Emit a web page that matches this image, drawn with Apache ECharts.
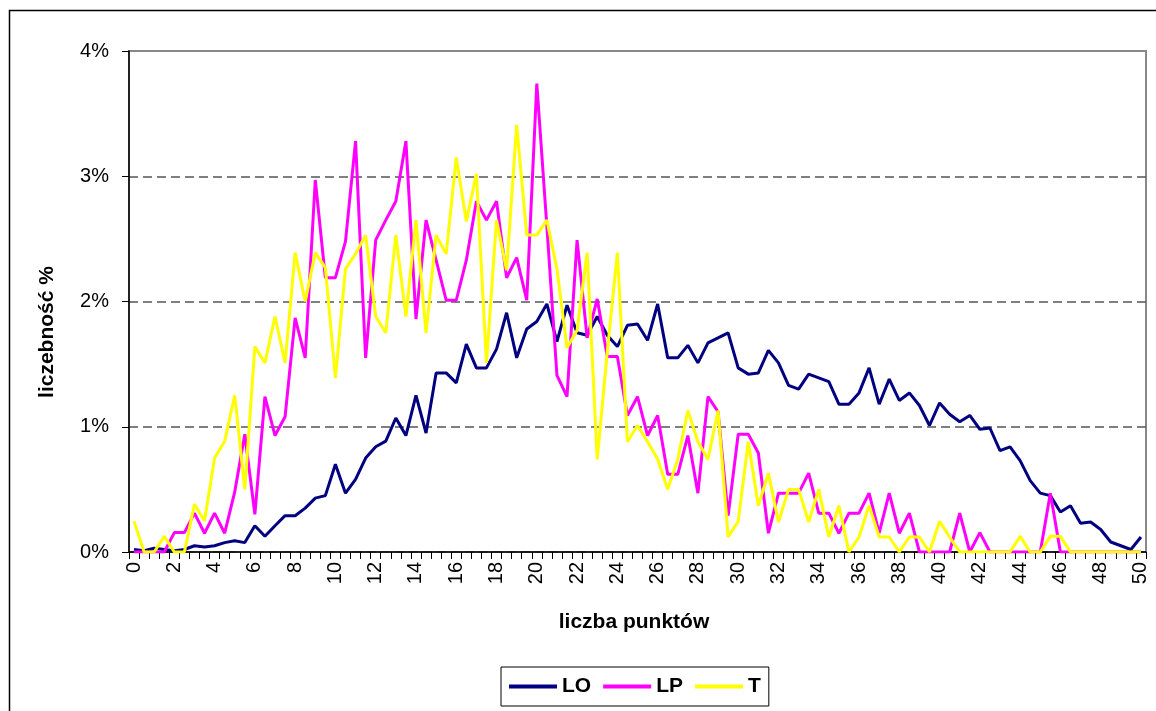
<!DOCTYPE html>
<html>
<head>
<meta charset="utf-8">
<script src="https://cdn.jsdelivr.net/npm/echarts@6/dist/echarts.min.js"></script>
<style>
  html, body { margin: 0; padding: 0; background: #fff; }
  #chart { width: 1156px; height: 711px; }
</style>
</head>
<body>
<div id="chart"></div>
<script>
// liczba punktów (krok 0.5)
const points = [
  '0','0.5','1','1.5','2','2.5','3','3.5','4','4.5','5','5.5','6','6.5','7','7.5','8','8.5','9','9.5',
  '10','10.5','11','11.5','12','12.5','13','13.5','14','14.5','15','15.5','16','16.5','17','17.5','18','18.5','19','19.5',
  '20','20.5','21','21.5','22','22.5','23','23.5','24','24.5','25','25.5','26','26.5','27','27.5','28','28.5','29','29.5',
  '30','30.5','31','31.5','32','32.5','33','33.5','34','34.5','35','35.5','36','36.5','37','37.5','38','38.5','39','39.5',
  '40','40.5','41','41.5','42','42.5','43','43.5','44','44.5','45','45.5','46','46.5','47','47.5','48','48.5','49','49.5',
  '50'
];

// liczebność % dla każdej grupy
const LO = [
  0.02, 0.01, 0.03, 0.02, 0.01, 0.02, 0.05, 0.04, 0.05, 0.075, 0.09, 0.075, 0.21, 0.125, 0.21, 0.29, 0.29, 0.35, 0.43, 0.45,
  0.70, 0.47, 0.58, 0.75, 0.84, 0.885, 1.07, 0.93, 1.25, 0.95, 1.43, 1.43, 1.35, 1.66, 1.47, 1.47, 1.62, 1.91, 1.55, 1.78,
  1.84, 1.98, 1.68, 1.97, 1.75, 1.73, 1.88, 1.73, 1.64, 1.81, 1.82, 1.69, 1.98, 1.55, 1.55, 1.65, 1.51, 1.67, 1.71, 1.75,
  1.47, 1.42, 1.43, 1.61, 1.51, 1.33, 1.30, 1.42, 1.39, 1.36, 1.18, 1.18, 1.27, 1.47, 1.18, 1.38, 1.21, 1.27, 1.17, 1.01,
  1.19, 1.10, 1.04, 1.09, 0.98, 0.99, 0.81, 0.84, 0.73, 0.57, 0.47, 0.45, 0.32, 0.37, 0.23, 0.24, 0.18, 0.08, 0.05, 0.02,
  0.12
];
const LP = [
  0, 0, 0, 0, 0.155, 0.155, 0.31, 0.15, 0.31, 0.15, 0.48, 0.94, 0.30, 1.24, 0.93, 1.08, 1.87, 1.55, 2.97, 2.19,
  2.19, 2.48, 3.28, 1.55, 2.49, 2.65, 2.80, 3.28, 1.86, 2.65, 2.33, 2.01, 2.01, 2.33, 2.80, 2.65, 2.80, 2.19, 2.35, 2.01,
  3.74, 2.60, 1.41, 1.24, 2.49, 1.71, 2.02, 1.56, 1.56, 1.09, 1.24, 0.93, 1.09, 0.62, 0.62, 0.93, 0.47, 1.24, 1.12, 0.29,
  0.94, 0.94, 0.79, 0.15, 0.47, 0.47, 0.47, 0.63, 0.31, 0.31, 0.15, 0.31, 0.31, 0.47, 0.15, 0.47, 0.15, 0.31, 0, 0,
  0, 0, 0.31, 0, 0.155, 0, 0, 0, 0, 0, 0, 0.47, 0, 0, 0, 0, 0, 0, 0, 0,
  0
];
const T = [
  0.245, 0, 0, 0.125, 0, 0, 0.38, 0.25, 0.75, 0.885, 1.25, 0.5, 1.64, 1.51, 1.88, 1.51, 2.39, 2.0, 2.39, 2.27,
  1.39, 2.26, 2.38, 2.53, 1.88, 1.75, 2.53, 1.88, 2.65, 1.75, 2.53, 2.38, 3.15, 2.64, 3.02, 1.51, 2.65, 2.25, 3.41, 2.53,
  2.53, 2.65, 2.26, 1.63, 1.77, 2.39, 0.74, 1.6, 2.39, 0.88, 1.01, 0.88, 0.74, 0.5, 0.74, 1.13, 0.88, 0.74, 1.13, 0.12,
  0.245, 0.88, 0.37, 0.63, 0.24, 0.5, 0.5, 0.24, 0.5, 0.12, 0.37, 0, 0.12, 0.37, 0.12, 0.12, 0, 0.12, 0.12, 0,
  0.245, 0.12, 0, 0, 0, 0, 0, 0, 0.125, 0, 0, 0.125, 0.125, 0, 0, 0, 0, 0, 0, 0,
  0
];

const FONT = 'Liberation Sans, Arial, sans-serif';

const chart = echarts.init(document.getElementById('chart'), null, { renderer: 'canvas' });

const option = {
  animation: false,
  backgroundColor: '#fff',
  textStyle: { fontFamily: FONT, color: '#000' },
  grid: {
    left: 129, right: 10, top: 51, bottom: 159,
    show: true, borderColor: '#888', borderWidth: 2, backgroundColor: 'transparent'
  },
  // ramka wykresu i tytuły osi
  graphic: [
    {
      type: 'rect', silent: true, z: -1,
      shape: { x: 9.5, y: 10.5, width: 1400, height: 900 },
      style: { fill: 'none', stroke: '#000', lineWidth: 1.5 }
    },
    {
      type: 'text', x: 634, y: 622,
      style: {
        text: 'liczba punktów', font: 'bold 21px ' + FONT, fill: '#000',
        align: 'center', verticalAlign: 'middle'
      }
    },
    {
      type: 'text', x: 47, y: 332, rotation: Math.PI / 2,
      style: {
        text: 'liczebność %', font: 'bold 21px ' + FONT, fill: '#000',
        align: 'center', verticalAlign: 'middle'
      }
    }
  ],
  legend: {
    data: ['LO', 'LP', 'T'],
    left: 501, top: 667,
    orient: 'horizontal',
    icon: 'rect',
    itemWidth: 48, itemHeight: 4, itemGap: 12,
    padding: [9, 8, 9, 8],
    borderColor: '#000', borderWidth: 1,
    textStyle: { fontFamily: FONT, fontWeight: 'bold', fontSize: 21, color: '#000' }
  },
  xAxis: {
    type: 'category',
    data: points,
    boundaryGap: true,
    axisLine: { lineStyle: { color: '#000', width: 1.5 } },
    axisTick: { show: true, interval: 0, length: 7, lineStyle: { color: '#000', width: 1 } },
    axisLabel: {
      interval: 3, rotate: 90, margin: 10,
      fontFamily: FONT, fontSize: 20, color: '#000'
    },
    splitLine: { show: false }
  },
  yAxis: {
    type: 'value',
    min: 0, max: 4, interval: 1,
    axisLine: { show: true, lineStyle: { color: '#000', width: 1.5 } },
    axisTick: { show: true, length: 7, lineStyle: { color: '#000' } },
    axisLabel: {
      formatter: '{value}%', margin: 20,
      fontFamily: FONT, fontSize: 20, color: '#000'
    },
    splitLine: {
      show: true,
      lineStyle: {
        color: ['#555', '#555', '#555', '#555', 'rgba(0,0,0,0)'],
        width: 1.5, type: [9, 5]
      }
    }
  },
  series: [
    {
      name: 'LO', type: 'line', data: LO, symbol: 'none',
      color: '#000080', lineStyle: { color: '#000080', width: 3 }
    },
    {
      name: 'LP', type: 'line', data: LP, symbol: 'none',
      color: '#FF00FF', lineStyle: { color: '#FF00FF', width: 3 }
    },
    {
      name: 'T', type: 'line', data: T, symbol: 'none',
      color: '#FFFF00', lineStyle: { color: '#FFFF00', width: 3 }
    }
  ]
};

chart.setOption(option);
</script>
</body>
</html>
